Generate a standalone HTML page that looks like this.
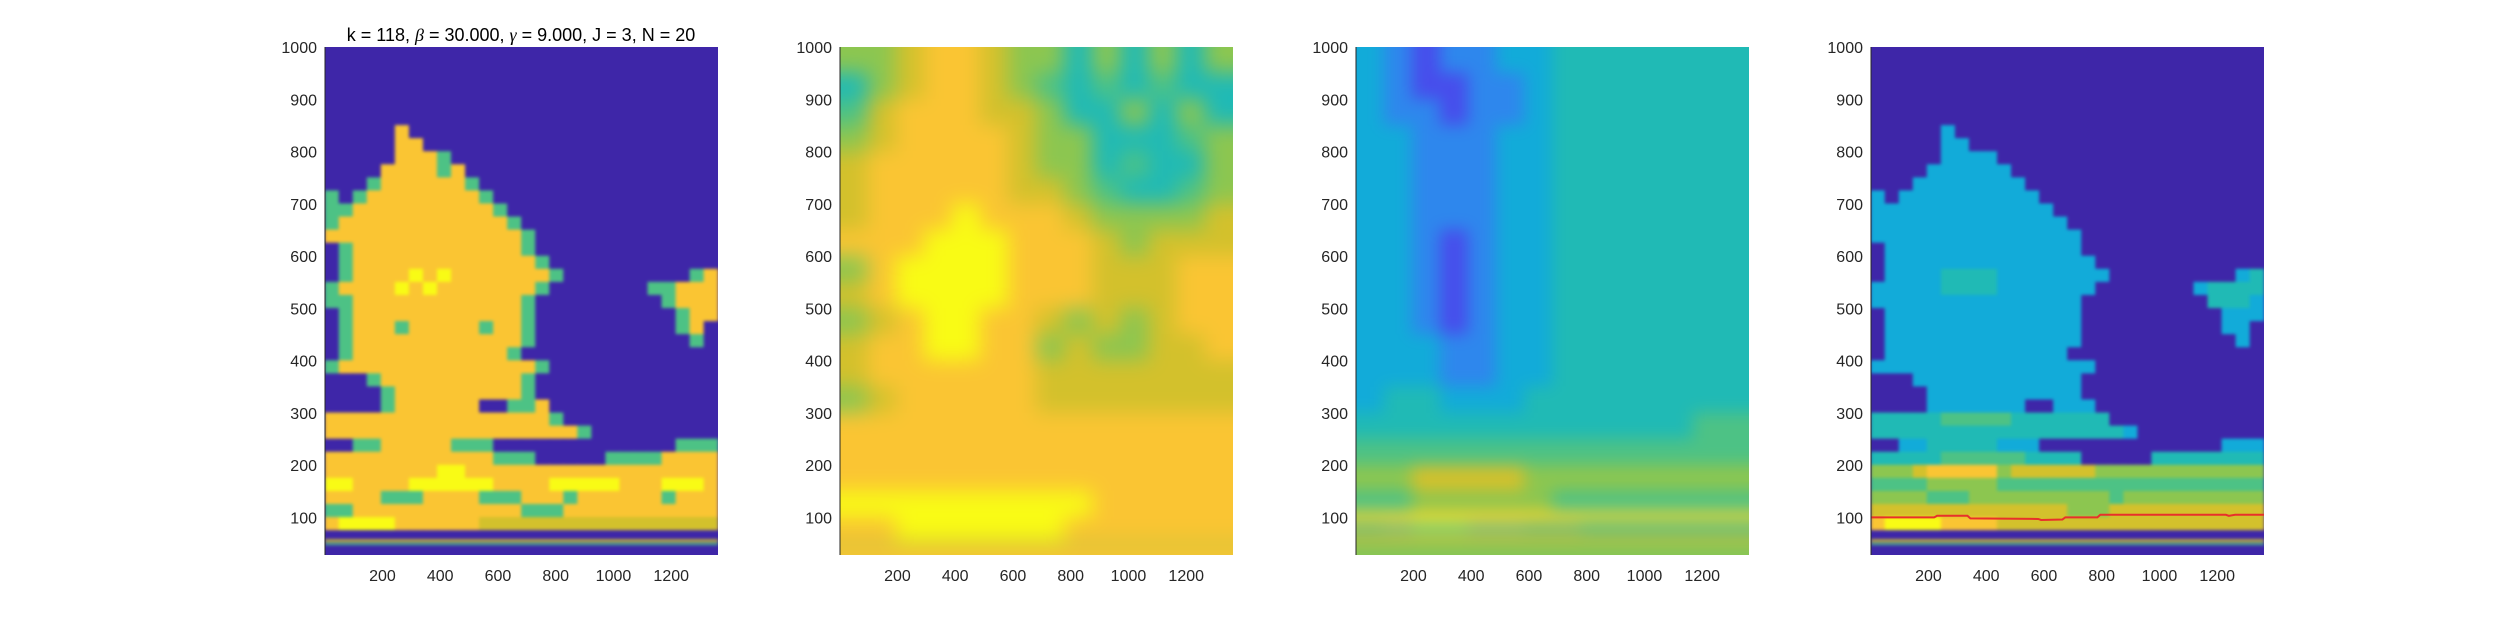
<!DOCTYPE html>
<html><head><meta charset="utf-8">
<style>
html,body{margin:0;padding:0;background:#fff;}
svg{display:block;font-family:"Liberation Sans",sans-serif;}
</style></head>
<body>
<svg id="fig" width="2500" height="625" viewBox="0 0 2500 625" xmlns="http://www.w3.org/2000/svg">
<defs>
<filter id="blur2" x="-10%" y="-10%" width="120%" height="120%" color-interpolation-filters="sRGB"><feGaussianBlur stdDeviation="10"/></filter>
<filter id="blur3" x="-10%" y="-10%" width="120%" height="120%" color-interpolation-filters="sRGB"><feGaussianBlur stdDeviation="8"/></filter>
<filter id="blur1" color-interpolation-filters="sRGB"><feGaussianBlur stdDeviation="1.5"/></filter>
</defs>
<text x="521" y="41" font-size="18" text-anchor="middle" fill="#000">k = 118, <tspan font-family="Liberation Serif" font-style="italic">β</tspan> = 30.000, <tspan font-family="Liberation Serif" font-style="italic">γ</tspan> = 9.000, J = 3, N = 20</text>
</svg>
<script>
// ---- data ----
const xTicks = [200,400,600,800,1000,1200];
const yTicks = [100,200,300,400,500,600,700,800,900,1000];
const xRange = [1,1362];
const yRange = [28,1000];
// plot 1 & 4 grids: rows 25 units each from y=1000 downward, 28 columns
const plot1Grid = [
"0000000000000000000000000000","0000000000000000000000000000","0000000000000000000000000000",
"0000000000000000000000000000","0000000000000000000000000000","0000000000000000000000000000",
"0000080000000000000000000000","0000088000000000000000000000","0000088850000000000000000000",
"0000888858000000000000000000","0005888888500000000000000000","5058888888850000000000000000",
"5588888888885000000000000000","5888888888888500000000000000","8888888888888850000000000000",
"0588888888888850000000000000","0588888888888885000000000000","0588889898888888500000000058",
"5888898988888885000000055888","5588888888888850000000005888","0588888888888850000000000588",
"0588858888858850000000000580","0588888888888850000000000050","0588888888888500000000000000",
"5888888888888885000000000000","0005888888888850000000000000","0000588888888850000000000000",
"0000588888800558000000000000","8888888888888888500000000000","8888888888888888885000000000",
"0055888885550000000000000555","8888888888885550000055558888","8888888899888888888888888888",
"9988889999998888999998889998","8888555888855588858888885888","5588888888888855588888888888",
"8999988888877777777777777777","0000000000000000000000000000","0000000000000000000000000000"];
const plot1Streaks = [[58,53,7],[51,47,5]];
const plot4Grid = [
"0000000000000000000000000000","0000000000000000000000000000","0000000000000000000000000000",
"0000000000000000000000000000","0000000000000000000000000000","0000000000000000000000000000",
"0000030000000000000000000000","0000033000000000000000000000","0000033330000000000000000000",
"0000333333000000000000000000","0003333333300000000000000000","3033333333330000000000000000",
"3333333333333000000000000000","3333333333333300000000000000","3333333333333330000000000000",
"0333333333333330000000000000","0333333333333333000000000000","0333344443333333300000000034",
"3333344443333333000000034444","3333333333333330000000004443",
"0333333333333330000000000333","0333333333333330000000000330","0333333333333330000000000030",
"0333333333333300000000000000","3333333333333333000000000000","0003333333333330000000000000",
"0000333333333330000000000000","0000333333300333000000000000","4444455555444444400000000000",
"4444444444444444443000000000","0033444443330000000000000333","4444455555544440000044444444",
"6667888886777777666666666666","5555666665555555555555555555","6666555666666666656666666666",
"7777777777777766677777777777","8999988887777777777777777777","0000000000000000000000000000","0000000000000000000000000000"];
const plot4Streaks = [[58,53,7],[51,47,5]];
const redLineX = [1,220,230,335,345,580,590,664,674,785,795,1230,1240,1262,1362];
const redLineY = [100,100,103,103,98,97,95,96,100,100,105,105,103,105,105];
// plot 2 & 3 grids: rows 50 units each from y=1000 downward, 14 columns
const plot2Grid = [
"66788766464646","46788765454544","57888776446464","67888876644456","78888876645446",
"78888877654456","78889888766667","88899988876777","68999988877788","78999988877788",
"67899887676788","78899886766778","78888887777777","67888887777777","88888888888888",
"88888888888888","88888888888888","99999999988888","88999999888888","88888888888888"];
const plot2Streaks = [[60,55,7],[45,40,6]];
const plot3Grid = [
"32122334444444","32112234444444","32212234444444","33222334444444","33222334444444",
"33222334444444","33222334444444","33212334444444","33212334444444","33212334444444",
"33212334444444","33322334444444","33322334444444","34433344444444","44444444444455",
"55555555555555","66777766666666","55666665555555","78998877666666","66666666666666"];
const plot3Streaks = [[112,92,8],[104,98,9],[86,72,4],[68,50,7],[45,38,5]];
const panelLefts = [325,840,1356,1871];
// ---- rendering ----
const NS="http://www.w3.org/2000/svg";
const svg=document.getElementById('fig');
const PW=393, PT=47, PB=555;
const stops=[[0,[62,38,168]],[0.125,[72,82,244]],[0.25,[39,150,235]],[0.375,[8,181,208]],[0.5,[51,190,160]],[0.625,[110,200,100]],[0.75,[200,194,41]],[0.875,[250,190,55]],[1,[249,251,21]]];
function parula(t){t=Math.max(0,Math.min(1,t));for(let i=1;i<stops.length;i++){if(t<=stops[i][0]){const a=stops[i-1],b=stops[i];const f=(t-a[0])/(b[0]-a[0]);const c=a[1].map((v,k)=>Math.round(v+(b[1][k]-v)*f));return `rgb(${c[0]},${c[1]},${c[2]})`;}}return 'rgb(249,251,21)';}
function mk(tag,attrs,parent){const e=document.createElementNS(NS,tag);for(const k in attrs)e.setAttribute(k,attrs[k]);(parent||svg).appendChild(e);return e;}
function panel(idx,grid,rowUnits,streaks,filter,extra){
  const L=panelLefts[idx];
  const sx=v=>L+(v-xRange[0])/(xRange[1]-xRange[0])*PW;
  const sy=v=>PB-(v-yRange[0])/(yRange[1]-yRange[0])*(PB-PT);
  const g=mk('g',{});
  
  
  const cid='clip'+idx;
  const cp=mk('clipPath',{id:cid},svg.querySelector('defs'));
  mk('rect',{x:L,y:PT,width:PW,height:PB-PT},cp);
  const clipG=mk('g',{'clip-path':`url(#${cid})`},g);
  mk('rect',{x:L,y:PT,width:PW,height:PB-PT,fill:parula(+grid[0][0]/9)},clipG);
  const inner=mk('g',filter?{filter:`url(#${filter})`}:{},clipG);
  const ncol=grid[0].length;
  const cw=(xRange[1]-xRange[0])/ncol;
  const pad=filter==='blur1'?0:30;
  grid.forEach((row,r)=>{
    const yTop=1000-rowUnits*r, yBot=yTop-rowUnits;
    for(let c=0;c<ncol;c++){
      const v=+row[c];
      const x0=xRange[0]+c*cw;
      let X=sx(x0)-0.3, W=sx(x0+cw)-sx(x0)+0.6, Y=sy(yTop)-0.3, H=sy(yBot)-sy(yTop)+0.6;
      if(c===0){X-=pad;W+=pad;} if(c===ncol-1){W+=pad;}
      if(r===0){Y-=pad;H+=pad;} if(r===grid.length-1){H+=pad;}
      const rc=mk('rect',{x:X,y:Y,width:W,height:H,fill:parula(v/9)},inner);
      
      
    }
  });
  streaks.forEach(s=>{
    const st=mk('rect',{x:sx(xRange[0])-pad,y:sy(s[0]),width:PW+2*pad,height:sy(s[1])-sy(s[0]),fill:parula(s[2]/9)},inner);
    
    
  });
  if(extra) extra(clipG,sx,sy);
  mk('line',{x1:L,y1:PT,x2:L,y2:PB,stroke:'#262626','stroke-width':1},g);
  xTicks.forEach(t=>{
    const tx=mk('text',{x:sx(t),y:PB+26,'font-size':16,'text-anchor':'middle',fill:'#262626'},g);
    tx.textContent=t;
    
    
  });
  yTicks.forEach(t=>{
    const ty=mk('text',{x:L-8,y:sy(t)+6,'font-size':16,'text-anchor':'end',fill:'#262626'},g);
    ty.textContent=t;
    
    
  });
}
panel(0,plot1Grid,25,plot1Streaks,'blur1');
panel(1,plot2Grid,50,plot2Streaks,'blur2');
panel(2,plot3Grid,50,plot3Streaks,'blur3');
panel(3,plot4Grid,25,plot4Streaks,'blur1',(g,sx,sy)=>{
  const pts=redLineX.map((x,i)=>sx(x)+','+sy(redLineY[i])).join(' ');
  const pl=mk('polyline',{points:pts,fill:'none',stroke:'#e8302a','stroke-width':2},g);
  
  
});
</script>
</body></html>
